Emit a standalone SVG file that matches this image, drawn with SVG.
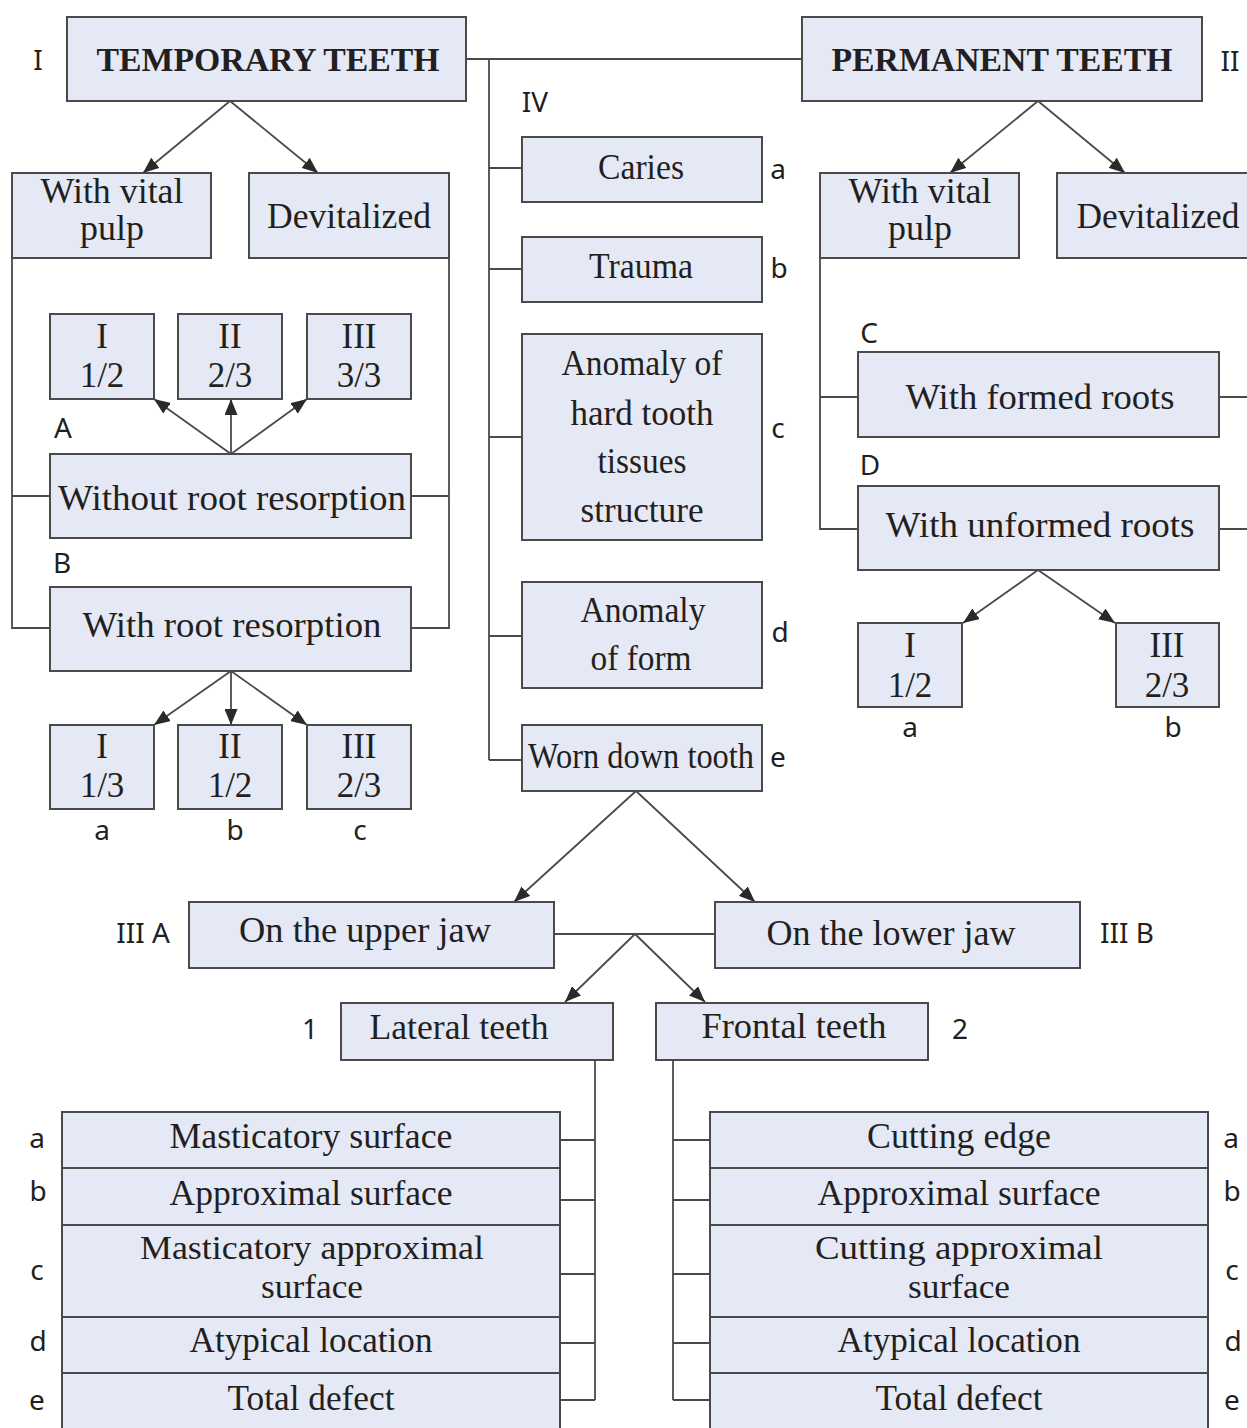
<svg xmlns="http://www.w3.org/2000/svg" width="1247" height="1428" viewBox="0 0 1247 1428">
<style>
.bx{fill:#e5e9f5;stroke:#4a4a4a;stroke-width:2}
.ln{fill:none;stroke:#4a4a4a;stroke-width:1.8}
.ar{fill:none;stroke:#4a4a4a;stroke-width:1.8;marker-end:url(#ah)}
.t{font-family:"Liberation Serif","Times New Roman",serif;font-size:35px;fill:#231f20;text-anchor:middle}
.t2{font-family:"Liberation Serif","Times New Roman",serif;font-size:33px;fill:#231f20;text-anchor:middle}
.tb{font-family:"Liberation Serif","Times New Roman",serif;font-size:34px;font-weight:bold;fill:#231f20;text-anchor:middle}
.s{font-family:"Noto Sans","Open Sans",sans-serif;font-size:28px;fill:#231f20;text-anchor:middle}
</style>
<defs>
<marker id="ah" viewBox="0 0 16 13" refX="16" refY="6.5" markerWidth="16" markerHeight="13" markerUnits="userSpaceOnUse" orient="auto">
<path d="M0,0 L16,6.5 L0,13 z" fill="#2a2a2a"/>
</marker>
</defs>
<rect width="1247" height="1428" fill="#ffffff"/>

<g id="connectors">
<path class="ln" d="M466 59 H802 M489 59 V760 M489 168 H522 M489 269 H522 M489 437 H522 M489 636 H522 M489 760 H522"/>
<path class="ln" d="M12 235 V628 H50 M12 496 H50 M449 235 V628 H411 M411 496 H449"/>
<path class="ar" d="M230 101 L143 173"/>
<path class="ar" d="M230 101 L318 173"/>
<path class="ar" d="M231 454 L154 399"/>
<path class="ar" d="M231 454 L231 399"/>
<path class="ar" d="M231 454 L307 399"/>
<path class="ar" d="M231 671 L154 725"/>
<path class="ar" d="M231 671 L231 725"/>
<path class="ar" d="M231 671 L307 725"/>
<path class="ar" d="M1038 101 L950 173"/>
<path class="ar" d="M1038 101 L1125 173"/>
<path class="ln" d="M820 235 V529 H858 M820 397 H858 M1219 397 H1247 M1219 529 H1247"/>
<path class="ar" d="M1038 570 L963 623"/>
<path class="ar" d="M1038 570 L1115 623"/>
<path class="ar" d="M636 791 L514 902"/>
<path class="ar" d="M636 791 L755 902"/>
<path class="ln" d="M554 934 H715"/>
<path class="ar" d="M635 934 L565 1002"/>
<path class="ar" d="M635 934 L705 1002"/>
<path class="ln" d="M595 1060 V1400 M560 1140 H595 M560 1200 H595 M560 1274 H595 M560 1343 H595 M560 1400 H595"/>
<path class="ln" d="M673 1060 V1400 M673 1140 H710 M673 1200 H710 M673 1274 H710 M673 1343 H710 M673 1400 H710"/>
</g>

<g id="n-temporary">
<rect class="bx" x="67" y="17" width="399" height="84"/>
<text class="tb" x="268" y="71" textLength="343" lengthAdjust="spacingAndGlyphs">TEMPORARY TEETH</text>
<text class="s" x="38" y="70">I</text>
</g>
<g id="n-permanent">
<rect class="bx" x="802" y="17" width="400" height="84"/>
<text class="tb" x="1002" y="71" textLength="341" lengthAdjust="spacingAndGlyphs">PERMANENT TEETH</text>
<text class="s" x="1230" y="71">II</text>
</g>

<g id="n-t-vital">
<rect class="bx" x="12" y="173" width="199" height="85"/>
<text class="t" x="112" y="203" textLength="143" lengthAdjust="spacingAndGlyphs">With vital</text>
<text class="t" x="112" y="240" textLength="64" lengthAdjust="spacingAndGlyphs">pulp</text>
</g>
<g id="n-t-devital">
<rect class="bx" x="249" y="173" width="200" height="85"/>
<text class="t" x="349" y="228" textLength="164" lengthAdjust="spacingAndGlyphs">Devitalized</text>
</g>

<g id="n-a1"><rect class="bx" x="50" y="314" width="104" height="85"/><text class="t" x="102" y="348">I</text><text class="t" x="102" y="387">1/2</text></g>
<g id="n-a2"><rect class="bx" x="178" y="314" width="104" height="85"/><text class="t" x="230" y="348">II</text><text class="t" x="230" y="387">2/3</text></g>
<g id="n-a3"><rect class="bx" x="307" y="314" width="104" height="85"/><text class="t" x="359" y="348">III</text><text class="t" x="359" y="387">3/3</text></g>

<g id="n-without">
<text class="s" x="63" y="438">A</text>
<rect class="bx" x="50" y="454" width="361" height="84"/>
<text class="t" x="232" y="510" textLength="348" lengthAdjust="spacingAndGlyphs">Without root resorption</text>
</g>
<g id="n-with-res">
<text class="s" x="62" y="573">B</text>
<rect class="bx" x="50" y="587" width="361" height="84"/>
<text class="t" x="232" y="637" textLength="299" lengthAdjust="spacingAndGlyphs">With root resorption</text>
</g>

<g id="n-b1"><rect class="bx" x="50" y="725" width="104" height="84"/><text class="t" x="102" y="758">I</text><text class="t" x="102" y="797">1/3</text><text class="s" x="102" y="840">a</text></g>
<g id="n-b2"><rect class="bx" x="178" y="725" width="104" height="84"/><text class="t" x="230" y="758">II</text><text class="t" x="230" y="797">1/2</text><text class="s" x="235" y="840">b</text></g>
<g id="n-b3"><rect class="bx" x="307" y="725" width="104" height="84"/><text class="t" x="359" y="758">III</text><text class="t" x="359" y="797">2/3</text><text class="s" x="360" y="840">c</text></g>

<g id="n-caries">
<text class="s" x="535" y="112">IV</text>
<rect class="bx" x="522" y="137" width="240" height="65"/>
<text class="t" x="641" y="179" textLength="86" lengthAdjust="spacingAndGlyphs">Caries</text>
<text class="s" x="778" y="179">a</text>
</g>
<g id="n-trauma">
<rect class="bx" x="522" y="237" width="240" height="65"/>
<text class="t" x="641" y="278" textLength="104" lengthAdjust="spacingAndGlyphs">Trauma</text>
<text class="s" x="779" y="278">b</text>
</g>
<g id="n-anomaly-hard">
<rect class="bx" x="522" y="334" width="240" height="206"/>
<text class="t" x="642" y="375" textLength="161" lengthAdjust="spacingAndGlyphs">Anomaly of</text>
<text class="t" x="642" y="425" textLength="143" lengthAdjust="spacingAndGlyphs">hard tooth</text>
<text class="t" x="642" y="473" textLength="89" lengthAdjust="spacingAndGlyphs">tissues</text>
<text class="t" x="642" y="522" textLength="123" lengthAdjust="spacingAndGlyphs">structure</text>
<text class="s" x="778" y="438">c</text>
</g>
<g id="n-anomaly-form">
<rect class="bx" x="522" y="582" width="240" height="106"/>
<text class="t" x="643" y="622" textLength="125" lengthAdjust="spacingAndGlyphs">Anomaly</text>
<text class="t" x="641" y="670" textLength="101" lengthAdjust="spacingAndGlyphs">of form</text>
<text class="s" x="780" y="642">d</text>
</g>
<g id="n-worn">
<rect class="bx" x="522" y="725" width="240" height="66"/>
<text class="t" x="641" y="768" textLength="226" lengthAdjust="spacingAndGlyphs">Worn down tooth</text>
<text class="s" x="778" y="767">e</text>
</g>

<g id="n-p-vital">
<rect class="bx" x="820" y="173" width="199" height="85"/>
<text class="t" x="920" y="203" textLength="143" lengthAdjust="spacingAndGlyphs">With vital</text>
<text class="t" x="920" y="240" textLength="64" lengthAdjust="spacingAndGlyphs">pulp</text>
</g>
<g id="n-p-devital">
<rect class="bx" x="1057" y="173" width="210" height="85"/>
<text class="t" x="1158" y="228" textLength="163" lengthAdjust="spacingAndGlyphs">Devitalized</text>
</g>
<g id="n-formed">
<text class="s" x="869" y="343">C</text>
<rect class="bx" x="858" y="352" width="361" height="85"/>
<text class="t" x="1040" y="409" textLength="269" lengthAdjust="spacingAndGlyphs">With formed roots</text>
</g>
<g id="n-unformed">
<text class="s" x="870" y="475">D</text>
<rect class="bx" x="858" y="486" width="361" height="84"/>
<text class="t" x="1040" y="537" textLength="309" lengthAdjust="spacingAndGlyphs">With unformed roots</text>
</g>
<g id="n-d1"><rect class="bx" x="858" y="623" width="104" height="84"/><text class="t" x="910" y="657">I</text><text class="t" x="910" y="697">1/2</text><text class="s" x="910" y="737">a</text></g>
<g id="n-d3"><rect class="bx" x="1116" y="623" width="103" height="84"/><text class="t" x="1167" y="657">III</text><text class="t" x="1167" y="697">2/3</text><text class="s" x="1173" y="737">b</text></g>

<g id="n-upper">
<text class="s" x="143" y="943">III A</text>
<rect class="bx" x="189" y="902" width="365" height="66"/>
<text class="t" x="365" y="942" textLength="252" lengthAdjust="spacingAndGlyphs">On the upper jaw</text>
</g>
<g id="n-lower">
<rect class="bx" x="715" y="902" width="365" height="66"/>
<text class="t" x="891" y="945" textLength="249" lengthAdjust="spacingAndGlyphs">On the lower jaw</text>
<text class="s" x="1127" y="943">III B</text>
</g>
<g id="n-lateral">
<text class="s" x="310" y="1039">1</text>
<rect class="bx" x="341" y="1003" width="272" height="57"/>
<text class="t" x="459" y="1039" textLength="179" lengthAdjust="spacingAndGlyphs">Lateral teeth</text>
</g>
<g id="n-frontal">
<rect class="bx" x="656" y="1003" width="272" height="57"/>
<text class="t" x="794" y="1038" textLength="185" lengthAdjust="spacingAndGlyphs">Frontal teeth</text>
<text class="s" x="960" y="1039">2</text>
</g>

<g id="n-l-a"><rect class="bx" x="62" y="1112" width="498" height="56"/><text class="t" x="311" y="1148" textLength="283" lengthAdjust="spacingAndGlyphs">Masticatory surface</text><text class="s" x="37" y="1148">a</text></g>
<g id="n-l-b"><rect class="bx" x="62" y="1168" width="498" height="57"/><text class="t" x="311" y="1205" textLength="283" lengthAdjust="spacingAndGlyphs">Approximal surface</text><text class="s" x="38" y="1201">b</text></g>
<g id="n-l-c"><rect class="bx" x="62" y="1225" width="498" height="92"/><text class="t2" x="312" y="1259" textLength="344" lengthAdjust="spacingAndGlyphs">Masticatory approximal</text><text class="t2" x="312" y="1298" textLength="102" lengthAdjust="spacingAndGlyphs">surface</text><text class="s" x="37" y="1280">c</text></g>
<g id="n-l-d"><rect class="bx" x="62" y="1317" width="498" height="56"/><text class="t" x="311" y="1352" textLength="243" lengthAdjust="spacingAndGlyphs">Atypical location</text><text class="s" x="38" y="1351">d</text></g>
<g id="n-l-e"><rect class="bx" x="62" y="1373" width="498" height="70"/><text class="t" x="311" y="1410" textLength="167" lengthAdjust="spacingAndGlyphs">Total defect</text><text class="s" x="37" y="1410">e</text></g>

<g id="n-r-a"><rect class="bx" x="710" y="1112" width="498" height="56"/><text class="t" x="959" y="1148" textLength="184" lengthAdjust="spacingAndGlyphs">Cutting edge</text><text class="s" x="1231" y="1148">a</text></g>
<g id="n-r-b"><rect class="bx" x="710" y="1168" width="498" height="57"/><text class="t" x="959" y="1205" textLength="283" lengthAdjust="spacingAndGlyphs">Approximal surface</text><text class="s" x="1232" y="1201">b</text></g>
<g id="n-r-c"><rect class="bx" x="710" y="1225" width="498" height="92"/><text class="t2" x="959" y="1259" textLength="288" lengthAdjust="spacingAndGlyphs">Cutting  approximal</text><text class="t2" x="959" y="1298" textLength="102" lengthAdjust="spacingAndGlyphs">surface</text><text class="s" x="1232" y="1280">c</text></g>
<g id="n-r-d"><rect class="bx" x="710" y="1317" width="498" height="56"/><text class="t" x="959" y="1352" textLength="243" lengthAdjust="spacingAndGlyphs">Atypical location</text><text class="s" x="1233" y="1351">d</text></g>
<g id="n-r-e"><rect class="bx" x="710" y="1373" width="498" height="70"/><text class="t" x="959" y="1410" textLength="167" lengthAdjust="spacingAndGlyphs">Total defect</text><text class="s" x="1232" y="1410">e</text></g>
</svg>
